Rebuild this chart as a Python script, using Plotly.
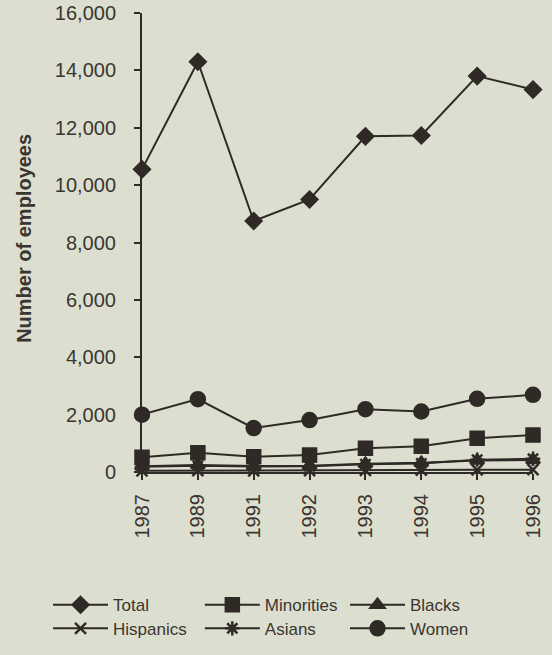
import plotly.graph_objects as go

years = ["1987", "1989", "1991", "1992", "1993", "1994", "1995", "1996"]
total = [10550, 14300, 8750, 9500, 11700, 11730, 13800, 13330]
minorities = [510, 670, 530, 590, 830, 900, 1180, 1290]
blacks = [200, 240, 210, 220, 290, 320, 400, 420]
hispanics = [40, 50, 40, 45, 60, 65, 75, 80]
asians = [180, 220, 190, 200, 270, 300, 430, 460]
women = [2000, 2540, 1530, 1810, 2190, 2110, 2550, 2690]

ink = "#2f2a26"
txt = "#3a3531"
bg = "#dcdfcf"
family = "Liberation Sans, Arial, sans-serif"

series = [
    ("Total", total, "diamond", 12),
    ("Minorities", minorities, "square", 13),
    ("Blacks", blacks, "triangle-up", 12),
    ("Hispanics", hispanics, "x-thin-open", 11),
    ("Asians", asians, "asterisk-open", 12),
    ("Women", women, "circle", 14),
]

# legend grid: 3 columns x 2 rows below the axes (container fractions)
legend_cols = [0.087, 0.362, 0.625]
legend_rows = [0.076, 0.040]

fig = go.Figure()
legend_layout = {}
for i, (name, vals, sym, sz) in enumerate(series):
    key = "legend" if i == 0 else f"legend{i + 1}"
    fig.add_trace(go.Scatter(
        x=years, y=vals, name=name, mode="lines+markers",
        line=dict(color=ink, width=2),
        marker=dict(symbol=sym, size=sz, color=ink,
                    line=dict(color=ink, width=2.5)),
        cliponaxis=False,
        legend=key,
    ))
    legend_layout[key] = dict(
        xref="container", yref="container",
        x=legend_cols[i % 3], y=legend_rows[i // 3],
        xanchor="left", yanchor="middle",
        itemwidth=55,
        font=dict(family=family, size=17, color=txt),
        bgcolor="rgba(0,0,0,0)",
    )

tick_font = dict(family=family, size=20, color=txt)

fig.update_layout(
    width=552, height=655,
    paper_bgcolor=bg, plot_bgcolor=bg,
    margin=dict(l=142, r=19, t=13, b=183, autoexpand=False),
    font=tick_font,
    showlegend=True,
    **legend_layout,
    xaxis=dict(
        type="category", range=[0, 7],
        showgrid=False, zeroline=False,
        showline=True, linecolor=ink, linewidth=2,
        ticks="outside", ticklen=6, tickwidth=2, tickcolor=ink,
        tickangle=-90, tickfont=tick_font, ticklabelstandoff=6,
    ),
    yaxis=dict(
        range=[0, 16000], tickvals=list(range(0, 16001, 2000)),
        tickformat=",d",
        showgrid=False, zeroline=False,
        showline=True, linecolor=ink, linewidth=2,
        ticks="outside", ticklen=6, tickwidth=2, tickcolor=ink,
        tickfont=tick_font, ticklabelstandoff=14,
    ),
    annotations=[dict(
        text="<b>Number of employees</b>", textangle=-90,
        xref="paper", yref="paper", x=-0.302, y=0.51,
        xanchor="center", yanchor="middle", showarrow=False,
        font=dict(family=family, size=20, color=txt),
    )],
)

fig.write_html("out.html")
